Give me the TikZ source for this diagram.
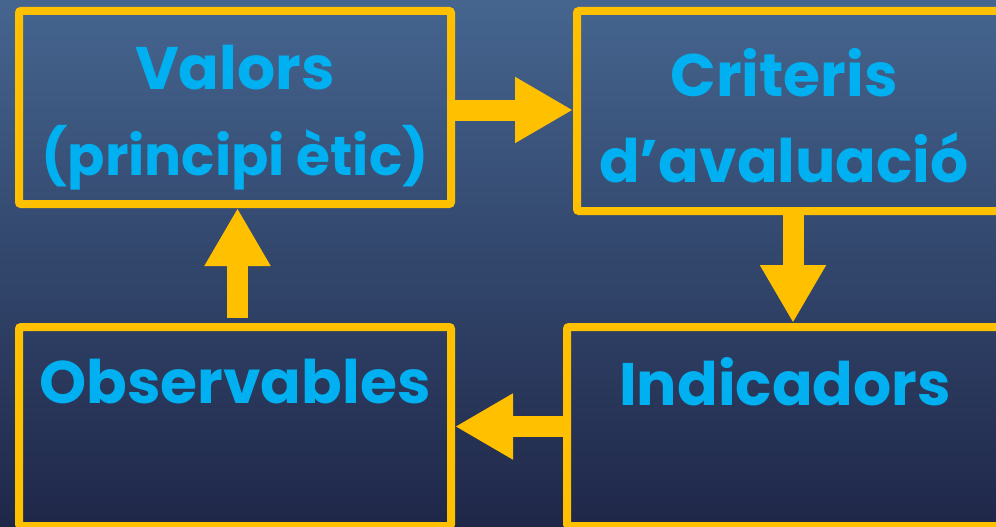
\documentclass[tikz,border=0pt]{standalone}
\usepackage{fontspec}
\setmainfont{Poppins}
\usetikzlibrary{arrows.meta,positioning}
\definecolor{gold}{HTML}{FFC000}
\definecolor{skyblue}{HTML}{00B0F0}
\definecolor{bgtop}{HTML}{45658F}
\definecolor{bgmid}{HTML}{37537D}
\definecolor{bgbot}{HTML}{1F2748}

\begin{document}
\begin{tikzpicture}[x=1pt,y=1pt]
\tikzstyle{box} = [rectangle,draw=gold,line width=8pt,rounded corners=2pt,fill=none]
\tikzstyle{lbl} = [text=skyblue,font=\fontsize{60}{86}\selectfont\bfseries,align=center,inner sep=0pt]
\tikzstyle{arr} = [draw=gold,line width=21pt,-{Triangle[length=58pt,width=62pt]}]

\clip (0,0) rectangle (996,-527);
\shade[top color=bgtop,middle color=bgmid,bottom color=bgbot] (0,0) rectangle (996,-527);

\node[box,minimum width=432pt,minimum height=193pt](valors) at (235,-107.5) {};
\node[box,minimum width=426pt,minimum height=200pt](criteris) at (790,-111) {};
\node[box,minimum width=432pt,minimum height=199pt](observables) at (235,-426.5) {};
\node[box,minimum width=436pt,minimum height=199pt](indicadors) at (785,-426.5) {};

\node[lbl](valorstext) at (235,-118) {Valors\\{\fontsize{55}{86}\selectfont(principi ètic)}};
\node[lbl](criteristext) at (784,-116) {Criteris\\d’avaluació};
\node[lbl](observablestext)[below=36pt of observables.north] {Observables};
\node[lbl](indicadorstext)[below=34pt of indicadors.north] {Indicadors};

\draw [arr] ([yshift=-2.5pt]valors.east) -- ([yshift=-2.5pt]valors.east -| criteris.west);
\draw [arr] ([xshift=3pt]criteris.south) -- ([xshift=3pt]criteris.south |- indicadors.north);
\draw [arr] (indicadors.west) -- (indicadors.west -| observables.east);
\draw [arr] ([xshift=2.5pt,yshift=5pt]observables.north) -- ([xshift=2.5pt]valors.south);

\end{tikzpicture}
\end{document}
